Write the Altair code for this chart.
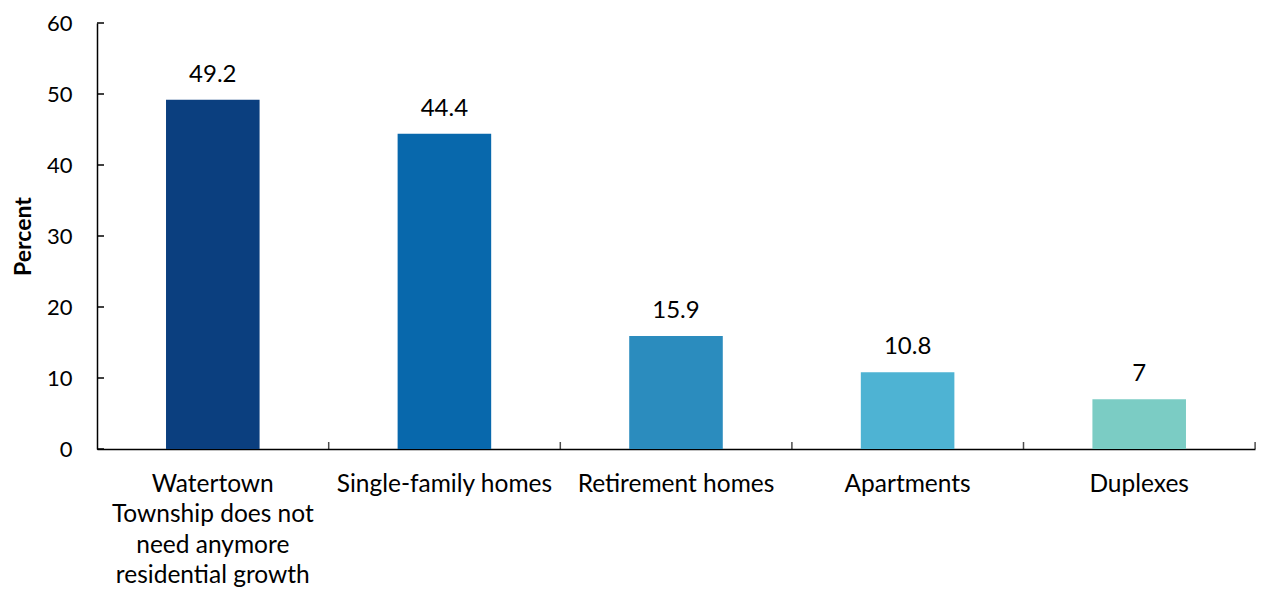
import altair as alt
import pandas as pd

categories = [
    "Watertown|Township does not|need anymore|residential growth",
    "Single-family homes",
    "Retirement homes",
    "Apartments",
    "Duplexes",
]
values = [49.2, 44.4, 15.9, 10.8, 7]
colors = ["#0b3f7f", "#0868ac", "#2b8cbe", "#4eb3d3", "#7bccc4"]
y_ticks = [0, 10, 20, 30, 40, 50, 60]

df = pd.DataFrame({"cat": categories, "val": values, "color": colors})
ticks_df = pd.DataFrame({"val": y_ticks})

FONT = "Lato"
PLOT_W = 1159  # approximate plot width, used only for tick offset
step = PLOT_W / len(categories)

xscale = alt.Scale(domain=categories, paddingInner=0.596, paddingOuter=0.298)
yscale = alt.Scale(domain=[0, 60])

xaxis = alt.Axis(labelAngle=0, ticks=False, labelLimit=0,
                 labelExpr="split(datum.label, '|')",
                 labelFont=FONT, labelFontSize=24.5, labelColor="#000",
                 labelLineHeight=30.5, labelPadding=23, labelBaseline="top",
                 domainColor="#000", domainWidth=1.5)
yaxis = alt.Axis(values=y_ticks, ticks=False, grid=False,
                 labelFont=FONT, labelFontSize=22, labelColor="#000",
                 labelPadding=25, domainColor="#000", domainWidth=1.5,
                 titleFont=FONT, titleFontSize=23, titleFontWeight="bold",
                 titleColor="#000", titlePadding=11)

bars = alt.Chart(df).mark_bar().encode(
    x=alt.X("cat:N", scale=xscale, sort=categories, title=None, axis=xaxis),
    y=alt.Y("val:Q", scale=yscale, title="Percent", axis=yaxis),
    color=alt.Color("color:N", scale=None),
)

text = alt.Chart(df).mark_text(font=FONT, fontSize=24, color="#000",
                               baseline="bottom", dy=-13).encode(
    x=alt.X("cat:N", scale=xscale, sort=categories, title=None, axis=xaxis),
    y=alt.Y("val:Q", scale=yscale, title="Percent", axis=yaxis),
    text=alt.Text("val:Q", format=".1~f"),
)

ytick_rules = alt.Chart(ticks_df).mark_rule(color="#000", strokeWidth=1.5).encode(
    y=alt.Y("val:Q", scale=yscale, title="Percent", axis=yaxis),
    x=alt.value(0),
    x2=alt.value(7),
)

xtick_marks = alt.Chart(df).mark_tick(color="#000", thickness=1.5, size=7,
                                      orient="vertical", xOffset=step / 2,
                                      yOffset=-3.5).encode(
    x=alt.X("cat:N", scale=xscale, sort=categories, title=None, axis=xaxis),
    y=alt.datum(0),
)

chart = alt.layer(bars, text, ytick_rules, xtick_marks).properties(
    width=1248, height=579,
    autosize=alt.AutoSizeParams(type="fit", contains="padding"),
    padding={"left": 4, "top": 4, "right": 1, "bottom": 0},
).configure_view(stroke=None)

chart.save("out.html", embed_options={"renderer": "svg", "actions": False})
